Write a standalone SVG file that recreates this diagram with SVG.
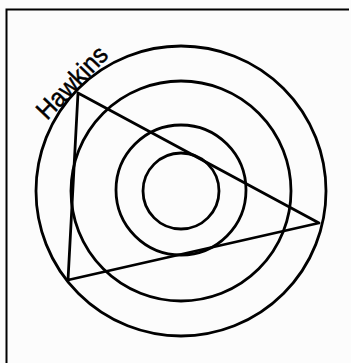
<svg xmlns="http://www.w3.org/2000/svg" width="351" height="363" viewBox="0 0 351 363">
<style>
.c{fill:none;stroke:#000;stroke-width:2.8}
.t{font-family:"Liberation Sans",Arial,sans-serif;font-size:26px;fill:#000;stroke:#000;stroke-width:0.5}
</style>
<rect x="0" y="0" width="351" height="363" fill="#fcfcfc"/>
<path d="M6.5,363 V9.5 H349" fill="none" stroke="#000" stroke-width="2"/>
<g id="circles">
<circle class="c" cx="181" cy="191" r="145"/>
<circle class="c" cx="181" cy="191" r="110"/>
<circle class="c" cx="181" cy="190" r="65"/>
<circle class="c" cx="181" cy="191" r="38"/>
</g>
<g id="connectors">
<polygon class="c" points="78,93 319,223 68,280" stroke-linejoin="round"/>
</g>
<g id="label">
<text class="t" transform="translate(47,121) rotate(-46)" textLength="90" lengthAdjust="spacingAndGlyphs">Hawkins</text>
</g>
</svg>
